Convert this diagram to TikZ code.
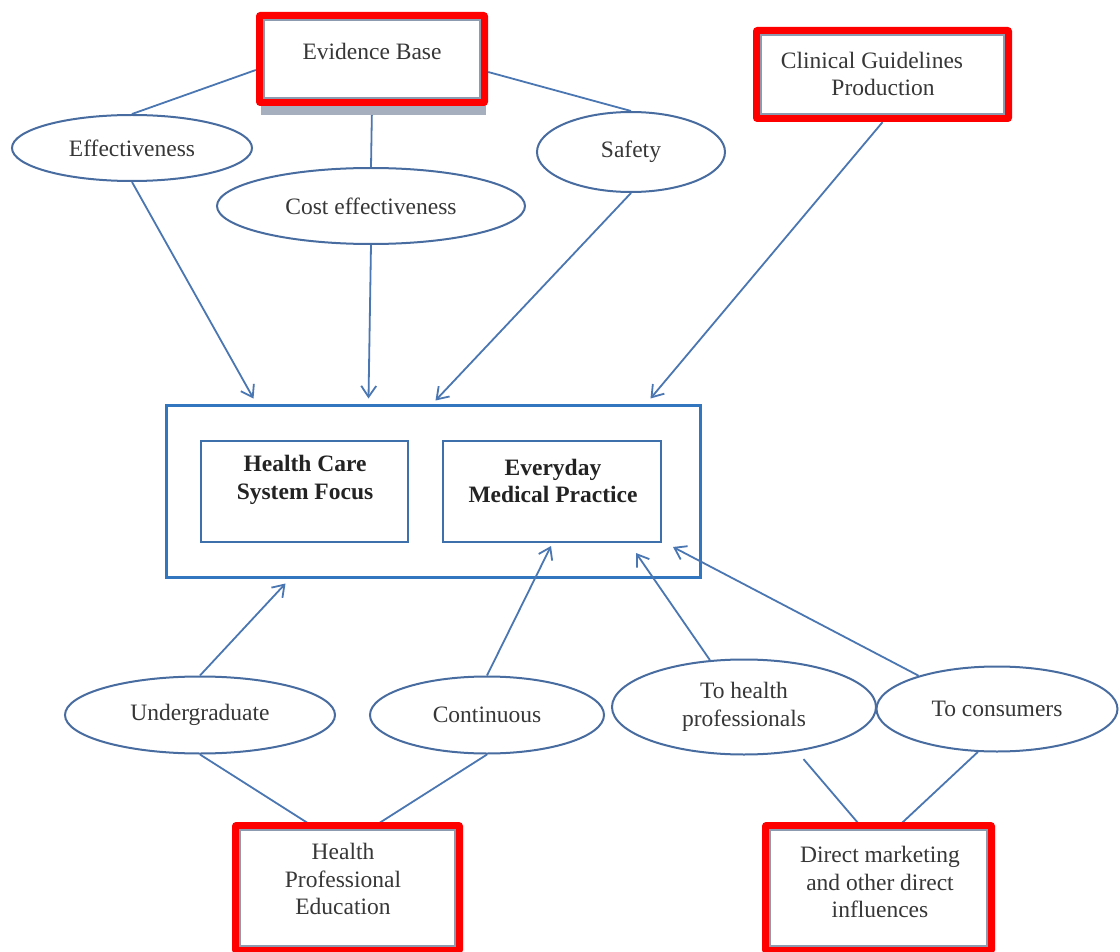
\documentclass[tikz,border=0pt]{standalone}
\usepackage{fontspec}
\setmainfont{Liberation Serif}
\usetikzlibrary{shapes.geometric,arrows.meta,calc,backgrounds}
\definecolor{lnc}{RGB}{74,118,178}
\definecolor{elc}{RGB}{72,108,160}
\definecolor{mbc}{RGB}{50,118,192}
\definecolor{ibc}{RGB}{62,112,172}
\definecolor{redc}{RGB}{255,0,0}
\definecolor{txc}{RGB}{55,55,55}
\definecolor{frc}{RGB}{140,155,175}
\definecolor{shc}{RGB}{165,175,190}
\begin{document}
\begin{tikzpicture}[x=1pt,y=-1pt,
  font=\fontsize{23.5}{27.5}\selectfont, text=txc,
  ell/.style={ellipse, draw=elc, line width=2pt, fill=white, inner sep=0pt, align=center},
  redbox/.style={rectangle, fill=redc, rounded corners=4pt, inner sep=0pt},
  innerbox/.style={rectangle, draw=ibc, line width=2pt, fill=white, inner sep=0pt},
  frame/.style={draw=frc, fill=white, line width=1.5pt},
  conn/.style={draw=lnc, line width=1.8pt},
  arr/.style={conn, -{Straight Barb[length=11pt,width=15pt]}},
  boldtxt/.style={align=center, font=\fontsize{23.5}{27.5}\selectfont\bfseries, text={rgb,255:red,35;green,35;blue,35}}
]
\useasboundingbox (0,0) rectangle (1120,952);

% shadow of the Evidence Base box
\fill[shc] (261,98) rectangle (486,115);

% boxes with red frames
\node[redbox, minimum width=232pt, minimum height=94pt] (eb) at (372,59) {};
\draw[frame, line width=2.5pt] ($(eb.north west)+(8,8)$) rectangle ($(eb.south east)+(-8,-8)$);
\node (ebt) at (372,51) {Evidence Base};

\node[redbox, minimum width=259pt, minimum height=95pt] (cgp) at (882.5,74.5) {};
\draw[frame] ($(cgp.north west)+(8,8)$) rectangle ($(cgp.south east)+(-8,-8)$);
\node[align=center] (cgpt) at (883,74) {Clinical Guidelines\hspace*{22pt}\\Production};

\node[redbox, minimum width=231pt, minimum height=132pt] (hpe) at (347.5,888) {};
\draw[frame] ($(hpe.north west)+(8,8)$) rectangle ($(hpe.south east)+(-8,-8)$);
\node[align=center] (hpet) at (343,879) {Health\\Professional\\Education};

\node[redbox, minimum width=233pt, minimum height=132pt] (dm) at (878.5,888) {};
\draw[frame] ($(dm.north west)+(8,8)$) rectangle ($(dm.south east)+(-8,-8)$);
\node[align=center] (dmt) at (880,882) {Direct marketing\\and other direct\\influences};

% ellipses
\node[ell, minimum width=240pt, minimum height=66pt] (eff) at (132,148) {Effectiveness};
\node[ell, minimum width=308pt, minimum height=76pt] (cost) at (371,206) {Cost effectiveness};
\node[ell, minimum width=188pt, minimum height=80pt] (saf) at (631,152) {Safety};
\node[ell, minimum width=270pt, minimum height=77pt] (ug) at (200,715) {Undergraduate};
\node[ell, minimum width=234pt, minimum height=77pt] (cont) at (487,715) {Continuous};
\node[ell, minimum width=264pt, minimum height=95pt] (thp) at (744,707) {To health\\professionals};
\node[ell, minimum width=241pt, minimum height=85pt] (tc) at (997,709) {To consumers};

% central box
\node[rectangle, draw=mbc, line width=3pt, fill=white, inner sep=0pt,
      minimum width=534pt, minimum height=172pt] (main) at (433,491) {};
\node[innerbox, minimum width=207pt, minimum height=101pt] (hcs) at (304.5,491.5) {};
\node[innerbox, minimum width=218pt, minimum height=101pt] (emp) at (552,491.5) {};
\node[boldtxt] (hcst) at (305,480) {Health Care\\System Focus};
\node[boldtxt] (empt) at (553,481) {Everyday\\Medical Practice};

% plain connectors (behind boxes)
\begin{pgfonlayer}{background}
\fill[white] (0,0) rectangle (1120,952);
\draw[conn] (eff.north) -- ($(eb.west)+(0,11)$);
\draw[conn] (saf.north) -- ($(eb.east)+(0,13)$);
\draw[conn] (eb.south) -- (cost.north);
\draw[conn] (ug.south) -- ($(hpe.north)+(-4,24)$);
\draw[conn] (cont.south) -- ($(hpe.north)+(-4,24)$);
\draw[conn, shorten <=10pt] (thp.-40) -- ($(dm.north)+(-1,24)$);
\draw[conn] (tc.-114) -- ($(dm.north)+(-1,24)$);
\end{pgfonlayer}

% arrows
\draw[arr] (eff.south) -- ($(main.north west)+(89,-5)$);
\draw[arr] (cost.south) -- ($(main.north west)+(204,-5)$);
\draw[arr] (saf.south) -- ($(main.north west)+(271,-3)$);
\draw[arr] (cgp.south) -- ($(main.north west)+(486,-5)$);
\draw[arr] (ug.north) -- ($(main.south west)+(121,5)$);
\draw[arr] (cont.north) -- ($(emp.south)+(-1,3)$);
\draw[arr] (thp.126) -- ($(emp.south east)+(-26,10)$);
\draw[arr] (tc.157) -- ($(emp.south east)+(11,4)$);
\end{tikzpicture}
\end{document}
